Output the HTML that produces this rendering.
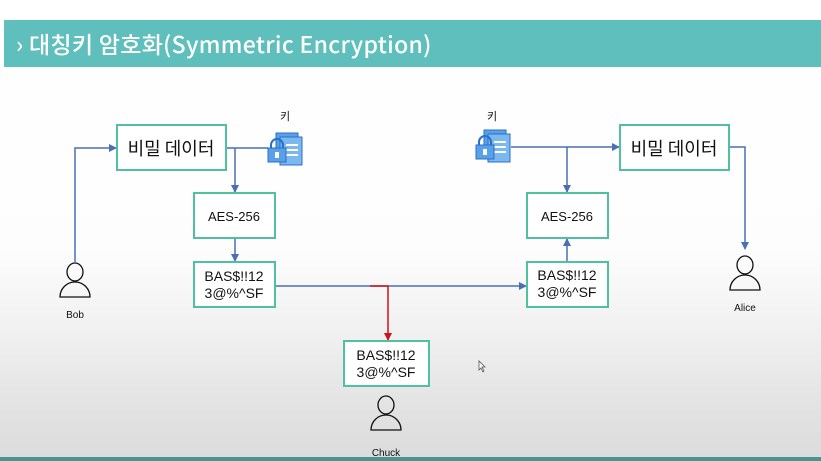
<!DOCTYPE html>
<html><head><meta charset="utf-8"><style>
html,body{margin:0;padding:0;width:821px;height:461px;overflow:hidden}
body{background:linear-gradient(to bottom,#ffffff 0px,#fdfdfd 250px,#f1f1f1 330px,#e4e4e4 400px,#dcdcdc 455px);position:relative;font-family:"Liberation Sans","Noto Sans CJK KR",sans-serif}
.hdr{position:absolute;left:4px;top:20px;width:817px;height:47px;background:#5fbfbc;color:#fff;font-family:"Noto Sans CJK KR","Liberation Sans",sans-serif;font-size:23px;font-weight:500;line-height:47px;text-indent:12px;letter-spacing:0.3px}
.foot{position:absolute;left:0;top:457px;width:821px;height:4px;background:#4a938f}
</style></head><body>
<div class="hdr">› 대칭키 암호화(Symmetric Encryption)</div>
<svg width="821" height="461" style="position:absolute;left:0;top:0">
<defs>
<marker id="a" markerWidth="8" markerHeight="8" refX="7" refY="4" orient="auto" markerUnits="userSpaceOnUse"><path d="M0,0 L8,4 L0,8 z" fill="#4a6fb5"/></marker>
<marker id="r" markerWidth="8" markerHeight="8" refX="7" refY="4" orient="auto" markerUnits="userSpaceOnUse"><path d="M0,0 L8,4 L0,8 z" fill="#d0121b"/></marker>
<g id="key">
<rect x="8" y="0" width="22" height="28" fill="#5aa0e6" stroke="#2a6fc9"/>
<rect x="12" y="4" width="22" height="28" fill="#7cb8f0" stroke="#2a6fc9"/>
<line x1="18" y1="12" x2="30" y2="12" stroke="#fff" stroke-width="2"/>
<line x1="18" y1="17" x2="30" y2="17" stroke="#fff" stroke-width="2"/>
<line x1="18" y1="22" x2="30" y2="22" stroke="#fff" stroke-width="2"/>
<path d="M3,16 v-4 a6,6 0 0 1 12,0 v4" fill="none" stroke="#2a6fc9" stroke-width="2"/>
<rect x="0" y="15" width="18" height="14" fill="#5aa0e6" stroke="#2a6fc9"/>
<rect x="7" y="19" width="4" height="6" fill="#fff"/>
</g>
<g id="p" fill="none" stroke="#111" stroke-width="1.3">
<ellipse cx="0" cy="-8" rx="8" ry="9"/>
<path d="M-15,17 A15,15 0 0 1 15,17 Z"/>
</g>
</defs>
<g fill="none" stroke="#4a6fb5" stroke-width="1.5">
<polyline points="75,262 75,148 116,148" marker-end="url(#a)"/>
<line x1="226" y1="148" x2="268" y2="148"/>
<line x1="235" y1="148" x2="235" y2="192" marker-end="url(#a)"/>
<line x1="235" y1="238" x2="235" y2="261" marker-end="url(#a)"/>
<line x1="275" y1="286" x2="526" y2="286" marker-end="url(#a)"/>
<line x1="511" y1="147" x2="619" y2="147" marker-end="url(#a)"/>
<line x1="567" y1="147" x2="567" y2="192" marker-end="url(#a)"/>
<line x1="567" y1="262" x2="567" y2="239" marker-end="url(#a)"/>
<polyline points="729,147 745,147 745,249" marker-end="url(#a)"/>
</g>
<polyline points="370,286 388,286 388,340" fill="none" stroke="#d0121b" stroke-width="1.5" marker-end="url(#r)"/>
<g fill="#fff" stroke="#4fc0a0" stroke-width="2">
<rect x="117" y="125" width="109" height="45"/>
<rect x="194" y="193" width="81" height="45"/>
<rect x="194" y="262" width="81" height="45"/>
<rect x="620" y="125" width="109" height="45"/>
<rect x="527" y="193" width="81" height="45"/>
<rect x="527" y="262" width="81" height="45"/>
<rect x="344" y="341" width="85" height="45"/>
</g>
<g font-family="Liberation Sans,Noto Sans CJK KR,sans-serif" fill="#111" text-anchor="middle">
<text x="171" y="155" font-size="18" font-family="Noto Sans CJK KR,sans-serif">비밀 데이터</text>
<text x="674" y="155" font-size="18" font-family="Noto Sans CJK KR,sans-serif">비밀 데이터</text>
<text x="234" y="221" font-size="13">AES-256</text>
<text x="567" y="221" font-size="13">AES-256</text>
<text x="234" y="281" font-size="14">BAS$!!12</text><text x="234" y="298" font-size="14">3@%^SF</text>
<text x="567" y="280" font-size="14">BAS$!!12</text><text x="567" y="297" font-size="14">3@%^SF</text>
<text x="386" y="360" font-size="14">BAS$!!12</text><text x="386" y="377" font-size="14">3@%^SF</text>
<text x="285" y="120" font-size="11" font-family="Noto Sans CJK KR,sans-serif">키</text>
<text x="492" y="120" font-size="11" font-family="Noto Sans CJK KR,sans-serif">키</text>
<text x="75" y="318" font-size="10">Bob</text>
<text x="745" y="311" font-size="10">Alice</text>
<text x="386" y="456" font-size="10">Chuck</text>
</g>
<use href="#key" x="268" y="133"/>
<use href="#key" x="476" y="130"/>
<use href="#p" x="75" y="280"/>
<use href="#p" x="745" y="273"/>
<use href="#p" x="386" y="413"/>
<path d="M479,361 v9 l2,-2 l2,4 l1,-1 l-2,-4 h3 z" fill="#fff" stroke="#555" stroke-width="0.8"/>
</svg>
<div class="foot"></div>
</body></html>
